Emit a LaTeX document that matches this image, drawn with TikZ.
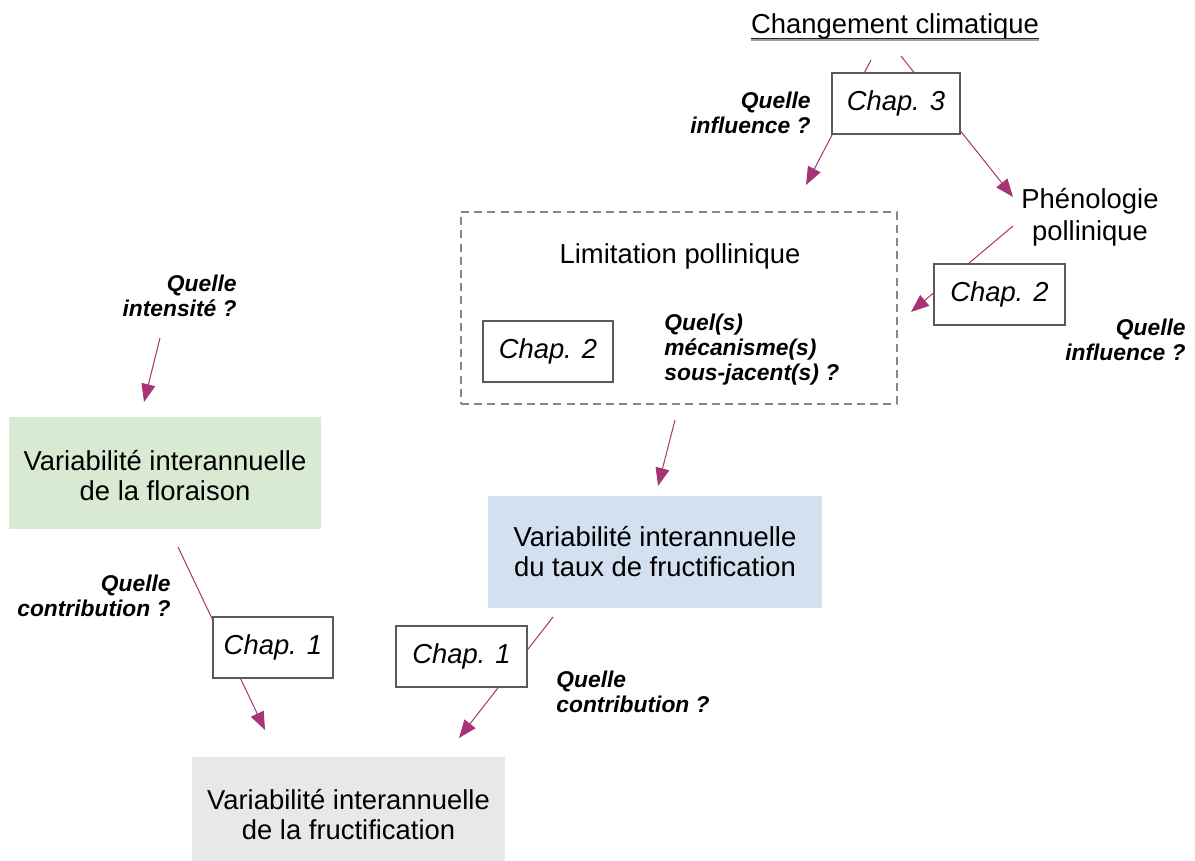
\documentclass[tikz,border=0pt]{standalone}
\usepackage{fontspec}
\setmainfont{Liberation Sans}
\usetikzlibrary{arrows.meta,backgrounds}

\definecolor{linkpurple}{RGB}{166,52,118}
\definecolor{boxgray}{RGB}{90,90,90}
\definecolor{dashgray}{RGB}{135,135,135}
\definecolor{florgreen}{RGB}{217,234,211}
\definecolor{tauxblue}{RGB}{211,224,240}
\definecolor{fructgray}{RGB}{231,233,233}

\newcommand{\bigtext}{\fontsize{13.7}{15}\selectfont}
\newcommand{\asktext}{\fontsize{11.4}{12.5}\selectfont\bfseries\itshape}

\tikzset{
  chapbox/.style={draw=boxgray, line width=0.8pt, fill=white, inner sep=0pt,
    minimum height=30.5pt, font=\bigtext\itshape},
  varbox/.style={inner sep=0pt, minimum height=56pt, align=center, font=\bigtext},
  ask/.style={inner sep=0pt, font=\asktext},
  link/.style={draw=linkpurple, line width=0.5pt, -{Triangle[length=9pt,width=7pt]}},
}

\begin{document}
\begin{tikzpicture}[x=0.5pt,y=-0.5pt]
\useasboundingbox (0,0) rectangle (1195,861);

% haut : climat et chapitre 3
\node[inner sep=0pt, anchor=base, font=\bigtext](clim) at (895,34) {Changement climatique};
\draw[gray!75, line width=0.9pt] ([yshift=-3.0pt]clim.base west) -- ([yshift=-3.0pt]clim.base east);
\draw[black!85, line width=0.6pt] ([yshift=-2.4pt]clim.base west) -- ([yshift=-2.4pt]clim.base east);
\node[chapbox, minimum width=64pt](chap3) at (896,103.5) {Chap. 3};
\node[ask, anchor=east, align=right](askclim) at (811,113) {Quelle\\influence ?};
\node[inner sep=0pt, align=center, font=\fontsize{13.7}{16}\selectfont](pheno) at (1090,217) {Phénologie\\pollinique};

% limitation pollinique
\node[draw=dashgray, line width=0.75pt, dash pattern=on 4pt off 2.6pt,
      minimum width=218pt, minimum height=96pt](limit) at (679,308) {};
\node[inner sep=0pt, font=\bigtext](limtitle) at (680,256) {Limitation pollinique};
\node[chapbox, minimum width=65pt](chap2a) at (548,351.5) {Chap. 2};
\node[ask, anchor=west, align=left](askmeca) at (664,350) {Quel(s)\\mécanisme(s)\\sous-jacent(s) ?};
\node[chapbox, minimum width=65.5pt](chap2b) at (999.5,294.5) {Chap. 2};
\node[ask, anchor=east, align=right](askpheno) at (1186,340) {Quelle\\influence ?};

% variabilites
\node[varbox, fill=florgreen, minimum width=156pt](flor) at (165,473) {\rule{0pt}{12.8pt}Variabilité interannuelle\\de la floraison};
\node[ask, anchor=east, align=right](askflor) at (237,296) {Quelle\\intensité ?};
\node[varbox, fill=tauxblue, minimum width=167pt](taux) at (655,552) {Variabilité interannuelle\\du taux de fructification};
\node[varbox, fill=fructgray, minimum width=156.5pt, minimum height=58pt](fruct) at (348.5,815) {Variabilité interannuelle\\de la fructification};

% chapitre 1
\node[chapbox, minimum width=60pt](chap1a) at (273,647.5) {Chap. 1};
\node[ask, anchor=east, align=right](askcontA) at (171,596) {Quelle\\contribution ?};
\node[chapbox, minimum width=65.5pt](chap1b) at (461.5,656.5) {Chap. 1};
\node[ask, anchor=west, align=left](askcontB) at (556,692) {Quelle\\contribution ?};

% bouts des fleches
\coordinate (climL) at (871,60);   \coordinate (limTop) at (806,185);
\coordinate (climR) at (901,56);   \coordinate (phenTop) at (1013,197);
\coordinate (phenBot) at (1013,226); \coordinate (limRight) at (911,312);
\coordinate (limBot) at (675,420); \coordinate (tauxTop) at (658,486);
\coordinate (askBot) at (160,338); \coordinate (florTop) at (144,402);
\coordinate (florBot) at (178,547); \coordinate (fructL) at (265,730);
\coordinate (tauxBot) at (553,617); \coordinate (fructR) at (459,738);

\begin{pgfonlayer}{background}
\draw[link] (climL)--(limTop);
\draw[link] (climR)--(phenTop);
\draw[link] (phenBot)--(limRight);
\draw[link] (limBot)--(tauxTop);
\draw[link] (askBot)--(florTop);
\draw[link] (florBot)--(fructL);
\draw[link] (tauxBot)--(fructR);
\end{pgfonlayer}

\end{tikzpicture}
\end{document}
